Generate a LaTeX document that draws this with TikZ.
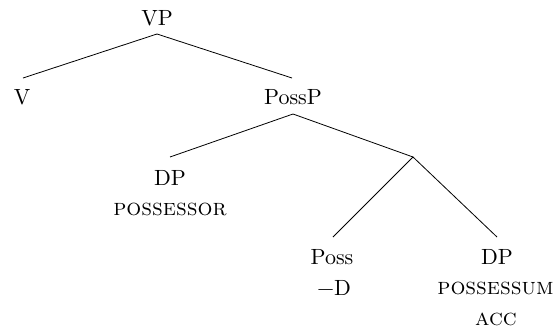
\documentclass[tikz,border=0pt]{standalone}
\font\labfont="[lmroman10-regular]:mapping=tex-text" at 22pt
\font\featfont="[lmromancaps10-regular]:mapping=tex-text" at 23.5pt
\begin{document}
\begin{tikzpicture}[x=1pt,y=-1pt,
  lab/.style={anchor=base,inner sep=0pt,font=\labfont},
  feat/.style={anchor=base,inner sep=0pt,font=\featfont},
  edge/.style={line width=0.8pt}]
\useasboundingbox (0,0) rectangle (555,335);
% labels
\node[lab] (vp) at (157,25.5) {VP};
\node[lab] (v) at (22,104) {V};
\node[lab] (possp) at (293,104.5) {PossP};
\node[lab] (dp1) at (170,185) {DP};
\node[feat] (dp1f) at (170,215) {possessor};
\node[lab] (poss) at (332,264.5) {Poss};
\node[lab] (possf) at (334,295) {−D};
\node[lab] (dp2) at (497,264.5) {DP};
\node[feat] (dp2f) at (495.5,294) {possessum};
\node[feat] (dp2g) at (496,325) {acc};
% connector ends
\coordinate (vp-b) at (157,34);
\coordinate (v-t) at (23,78);
\coordinate (possp-t) at (292,78);
\coordinate (possp-b) at (293,114);
\coordinate (dp1-t) at (170,157);
\coordinate (pbar) at (413,157);
\coordinate (poss-t) at (333,237);
\coordinate (dp2-t) at (497,237);
% connectors
\draw[edge] (v-t) -- (vp-b) -- (possp-t);
\draw[edge] (dp1-t) -- (possp-b) -- (pbar);
\draw[edge] (poss-t) -- (pbar) -- (dp2-t);
\end{tikzpicture}
\end{document}
